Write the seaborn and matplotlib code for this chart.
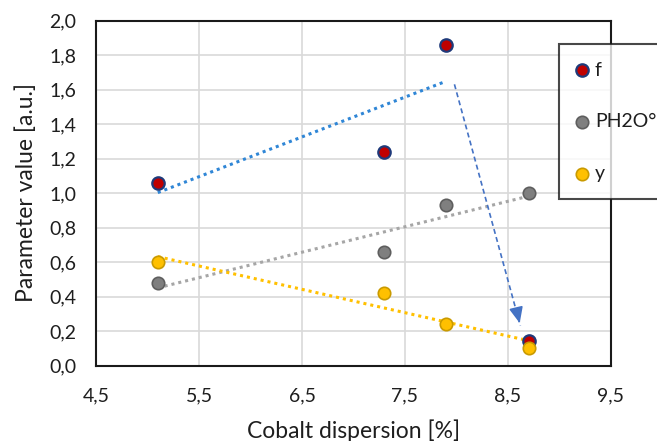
import numpy as np
import pandas as pd
import matplotlib
matplotlib.use("Agg")
import matplotlib.pyplot as plt
import seaborn as sns

# ---- data ----
dispersion = [5.1, 7.3, 7.9, 8.7]
f_values = [1.06, 1.24, 1.86, 0.14]
ph2o_values = [0.48, 0.66, 0.93, 1.00]
y_values = [0.60, 0.42, 0.24, 0.10]
series_names = ["f", "PH2O°", "y"]

# annotation arrow (start, end) in data units
arrow_start = [7.98, 1.63]
arrow_end = [8.62, 0.23]

x_ticks = [4.5, 5.5, 6.5, 7.5, 8.5, 9.5]
x_ticklabels = ["4,5", "5,5", "6,5", "7,5", "8,5", "9,5"]
y_ticks = [0.0, 0.2, 0.4, 0.6, 0.8, 1.0, 1.2, 1.4, 1.6, 1.8, 2.0]
y_ticklabels = ["0,0", "0,2", "0,4", "0,6", "0,8", "1,0", "1,2", "1,4", "1,6", "1,8", "2,0"]

sns.set_theme(style="white")
plt.rcParams["font.family"] = ["Lato", "DejaVu Sans"]

fig = plt.figure(figsize=(6.57, 4.41), dpi=100)
ax = fig.add_axes([96 / 657, 75.5 / 441, 515 / 657, 345 / 441])

df = pd.DataFrame({"x": dispersion, "f": f_values, "p": ph2o_values, "y": y_values})

# trend lines
sns.regplot(data=df.iloc[:3], x="x", y="f", ax=ax, scatter=False, ci=None,
            line_kws=dict(color="#2F86D6", lw=2.2, linestyle=(0, (1, 1.3))))
sns.regplot(data=df, x="x", y="p", ax=ax, scatter=False, ci=None,
            line_kws=dict(color="#A6A6A6", lw=2.2, linestyle=(0, (1, 1.3))))
sns.regplot(data=df, x="x", y="y", ax=ax, scatter=False, ci=None,
            line_kws=dict(color="#FFC000", lw=2.2, linestyle=(0, (1, 1.3))))

# dashed arrow
ax.plot([arrow_start[0], arrow_end[0]], [arrow_start[1], arrow_end[1]],
        color="#4472C4", lw=1.2, linestyle=(0, (3, 2)), zorder=3)
ax.annotate("", xy=(arrow_end[0], arrow_end[1]),
            xytext=(arrow_end[0] - 0.02, arrow_end[1] + 0.05),
            arrowprops=dict(arrowstyle="-|>,head_length=0.8,head_width=0.35",
                            color="#4472C4", lw=1.2), zorder=3)

# scatter points
sns.scatterplot(data=df, x="x", y="f", ax=ax, s=80, color="#C00000",
                edgecolor="#1F3A7A", linewidth=1.6, label=series_names[0], zorder=4)
sns.scatterplot(data=df, x="x", y="p", ax=ax, s=80, color="#7F7F7F",
                edgecolor="#5E5E5E", linewidth=1.2, label=series_names[1], zorder=4)
sns.scatterplot(data=df, x="x", y="y", ax=ax, s=80, color="#FFC000",
                edgecolor="#C99A00", linewidth=1.2, label=series_names[2], zorder=4)

ax.set_xlim(4.5, 9.5)
ax.set_ylim(0.0, 2.0)
ax.set_xticks(x_ticks)
ax.set_xticklabels(x_ticklabels)
ax.set_yticks(y_ticks)
ax.set_yticklabels(y_ticklabels)
ax.tick_params(axis="both", length=0, labelsize=14, colors="#1e1e1e")
ax.tick_params(axis="x", pad=15.5)
ax.tick_params(axis="y", pad=14)
ax.grid(True, color="#D9D9D9", lw=1.2)
ax.set_axisbelow(True)
for sp in ax.spines.values():
    sp.set_color("#1a1a1a")
    sp.set_linewidth(1.5)

ax.set_xlabel("Cobalt dispersion [%]", fontsize=16.5, color="#1e1e1e", labelpad=11)
ax.set_ylabel("Parameter value [a.u.]", fontsize=16.5, color="#1e1e1e", labelpad=9)

leg = ax.legend(loc="upper left", bbox_to_anchor=(559 / 657, 1 - 44 / 441),
                bbox_transform=fig.transFigure, fancybox=False, frameon=True,
                fontsize=14, labelspacing=1.78, handletextpad=0.35,
                borderpad=0.9, borderaxespad=0, handlelength=0.6,
                markerscale=1.0)
leg.get_frame().set_edgecolor("#1a1a1a")
leg.get_frame().set_linewidth(1.5)
leg.get_frame().set_facecolor("white")
for t in leg.get_texts():
    t.set_color("#1e1e1e")
leg.set_zorder(10)

fig.savefig("out.png", dpi=100)
